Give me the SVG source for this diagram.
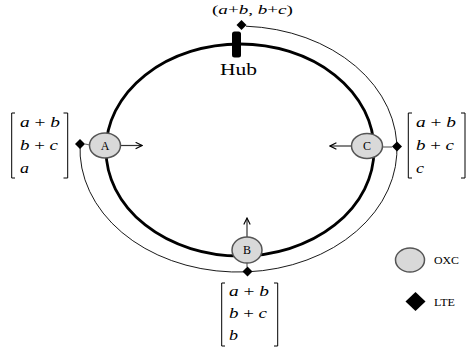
<svg xmlns="http://www.w3.org/2000/svg" width="467" height="351" viewBox="0 0 467 351">
<defs>
<marker id="arr" viewBox="0 0 10 10" refX="9" refY="5" markerWidth="8" markerHeight="8" orient="auto" markerUnits="userSpaceOnUse">
<path d="M1,1 L9,5 L1,9" fill="none" stroke="#000" stroke-width="1.4"/>
</marker>
</defs>
<style>
.oxc{fill:#d9d9d9;stroke:#555;stroke-width:1.5}
.lte{fill:#000}
.ring{fill:none;stroke:#000;stroke-width:2.8}
.thin{fill:none;stroke:#000;stroke-width:0.9}
.link{stroke:#666;stroke-width:1.2}
.arrow{stroke:#333;stroke-width:1.2;fill:none}
.br{fill:none;stroke:#000;stroke-width:1}
text{font-family:"Liberation Serif","Times New Roman",serif;fill:#000}
.m{font-size:14px}
.i{font-style:italic}
.lbl{font-size:12px;text-anchor:middle}
</style>
<rect width="467" height="351" fill="#fff"/>
<g id="connectors">
<ellipse class="ring" cx="240" cy="150" rx="134" ry="106"/>
<path class="thin" d="M 246 26.2 A 158.5 123 0 1 1 80.1 144"/>
<line class="link" x1="85" y1="144" x2="90" y2="145"/>
<line class="link" x1="382" y1="147" x2="392" y2="147"/>
<line class="link" x1="247" y1="263" x2="247" y2="267"/>
<line class="arrow" x1="120" y1="145.5" x2="142" y2="145.5" marker-end="url(#arr)"/>
<line class="arrow" x1="352" y1="146" x2="330" y2="146" marker-end="url(#arr)"/>
<line class="arrow" x1="247" y1="237" x2="247" y2="218" marker-end="url(#arr)"/>
</g>
<g id="hub" font-family="'Liberation Serif', serif">
<rect x="232" y="31.5" width="9" height="26" rx="2.5" fill="#000"/>
<text x="220" y="75" font-size="17" textLength="37" lengthAdjust="spacingAndGlyphs">Hub</text>
<polygon class="lte" points="241.5,20 246.5,25 241.5,30 236.5,25"/>
<text x="212" y="13.5" font-size="13" textLength="81" lengthAdjust="spacingAndGlyphs">(<tspan class="i">a</tspan>+<tspan class="i">b</tspan>, <tspan class="i">b</tspan>+<tspan class="i">c</tspan>)</text>
</g>
<g id="nodeA" font-family="'Liberation Serif', serif">
<ellipse class="oxc" cx="105" cy="145.5" rx="15.5" ry="12.5"/>
<text class="lbl" x="105" y="149.5">A</text>
<polygon class="lte" points="80,139 85,144 80,149 75,144"/>
<path class="br" d="M15,113 H11.7 V178 H15 M63.5,113 H67.7 V178 H63.5"/>
<text class="m i" x="20" y="127" textLength="40" lengthAdjust="spacingAndGlyphs">a <tspan font-style="normal">+</tspan> b</text>
<text class="m i" x="20" y="149.5" textLength="38" lengthAdjust="spacingAndGlyphs">b <tspan font-style="normal">+</tspan> c</text>
<text class="m i" x="20" y="172.5" textLength="9" lengthAdjust="spacingAndGlyphs">a</text>
</g>
<g id="nodeB" font-family="'Liberation Serif', serif">
<ellipse class="oxc" cx="247" cy="250" rx="15" ry="13"/>
<text class="lbl" x="247" y="254">B</text>
<polygon class="lte" points="247.5,266.5 252.5,271.5 247.5,276.5 242.5,271.5"/>
<path class="br" d="M225,283 H221.7 V346 H225 M274,283 H277.7 V346 H274"/>
<text class="m i" x="229" y="296" textLength="40" lengthAdjust="spacingAndGlyphs">a <tspan font-style="normal">+</tspan> b</text>
<text class="m i" x="229" y="318" textLength="38" lengthAdjust="spacingAndGlyphs">b <tspan font-style="normal">+</tspan> c</text>
<text class="m i" x="229" y="340" textLength="9" lengthAdjust="spacingAndGlyphs">b</text>
</g>
<g id="nodeC" font-family="'Liberation Serif', serif">
<ellipse class="oxc" cx="367" cy="146" rx="15.5" ry="12.5"/>
<text class="lbl" x="367" y="150">C</text>
<polygon class="lte" points="397,141.5 402,146.5 397,151.5 392,146.5"/>
<path class="br" d="M412,113 H408.3 V178 H412 M461,113 H465 V178 H461"/>
<text class="m i" x="416" y="127" textLength="40" lengthAdjust="spacingAndGlyphs">a <tspan font-style="normal">+</tspan> b</text>
<text class="m i" x="416" y="149.5" textLength="38" lengthAdjust="spacingAndGlyphs">b <tspan font-style="normal">+</tspan> c</text>
<text class="m i" x="416" y="172.5" textLength="8" lengthAdjust="spacingAndGlyphs">c</text>
</g>
<g id="legend" font-family="'Liberation Serif', serif">
<ellipse class="oxc" cx="410" cy="260" rx="14.5" ry="12"/>
<text x="434" y="264" font-size="11" textLength="25" lengthAdjust="spacingAndGlyphs">OXC</text>
<polygon class="lte" points="415.5,292 425.5,301.5 415.5,311 405.5,301.5"/>
<text x="434" y="306" font-size="11" textLength="21" lengthAdjust="spacingAndGlyphs">LTE</text>
</g>
</svg>
